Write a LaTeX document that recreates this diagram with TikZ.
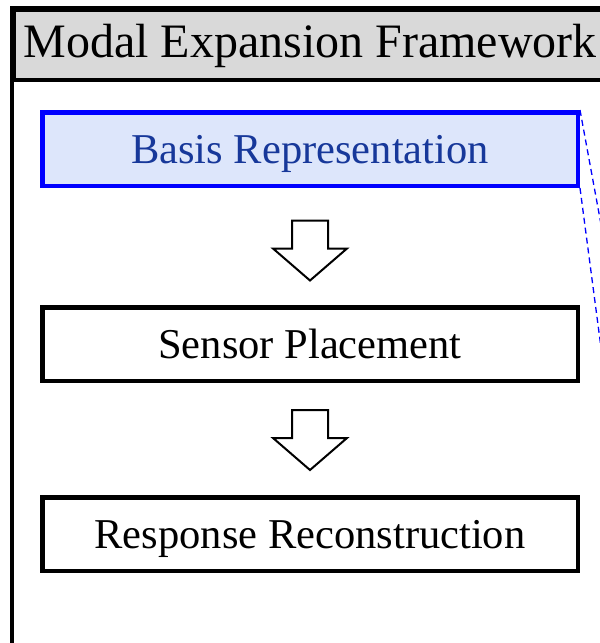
\documentclass[tikz,border=0pt]{standalone}
\usepackage{fontspec}
\setmainfont{Liberation Serif}
\usetikzlibrary{positioning,calc}

\definecolor{headgray}{HTML}{D9D9D9}
\definecolor{basisfill}{HTML}{DDE6FB}
\definecolor{basistext}{HTML}{17389A}

\tikzset{
  stage/.style={draw,line width=4.5pt,minimum width=535.5pt,minimum height=73.5pt,
    inner sep=0pt,text height=28pt,text depth=0pt,font=\fontsize{42.5}{46}\selectfont},
  basisbox/.style={stage,draw=blue,fill=basisfill,text=basistext},
  hollow/.pic={
    \draw[line width=2pt,fill=white,line join=miter]
      (-18,-30) -- (18,-30) -- (18,-2) -- (37,-2) -- (0,30) -- (-37,-2) -- (-18,-2) -- cycle;
  },
  zoomline/.style={blue,line width=1.3pt,dash pattern=on 6pt off 4pt}
}

\begin{document}
\begin{tikzpicture}[x=1pt,y=-1pt]
  \useasboundingbox (0,0) rectangle (600,643);
  \draw[line width=3.5pt] (12,8) rectangle (640,680);
  \node[draw,line width=3.5pt,fill=headgray,minimum width=628pt,minimum height=70pt,
        anchor=north west,inner sep=0pt] (header) at (12,8) {};
  \node[font=\fontsize{48}{50}\selectfont,text height=32pt,text depth=0pt] (title) at (310,41) {Modal Expansion Framework};

  \node[basisbox] (basis) at (310,149) {Basis Representation};
  \node[stage] (sensor) at (310,344) {Sensor Placement};
  \node[stage] (recon) at (310,534) {Response Reconstruction};

  % hollow arrows between the stages
  \pic at ($(basis.south)!0.5!(sensor.north)+(0,4)$) {hollow};
  \pic at ($(sensor.south)!0.5!(recon.north)+(0,1)$) {hollow};

  % dashed lines leading out of the picture
  \coordinate (zoomtop) at (612,284);
  \coordinate (zoombot) at (612,431);
  \draw[zoomline] (basis.north east) -- (zoomtop);
  \draw[zoomline] (basis.south east) -- (zoombot);
\end{tikzpicture}
\end{document}
